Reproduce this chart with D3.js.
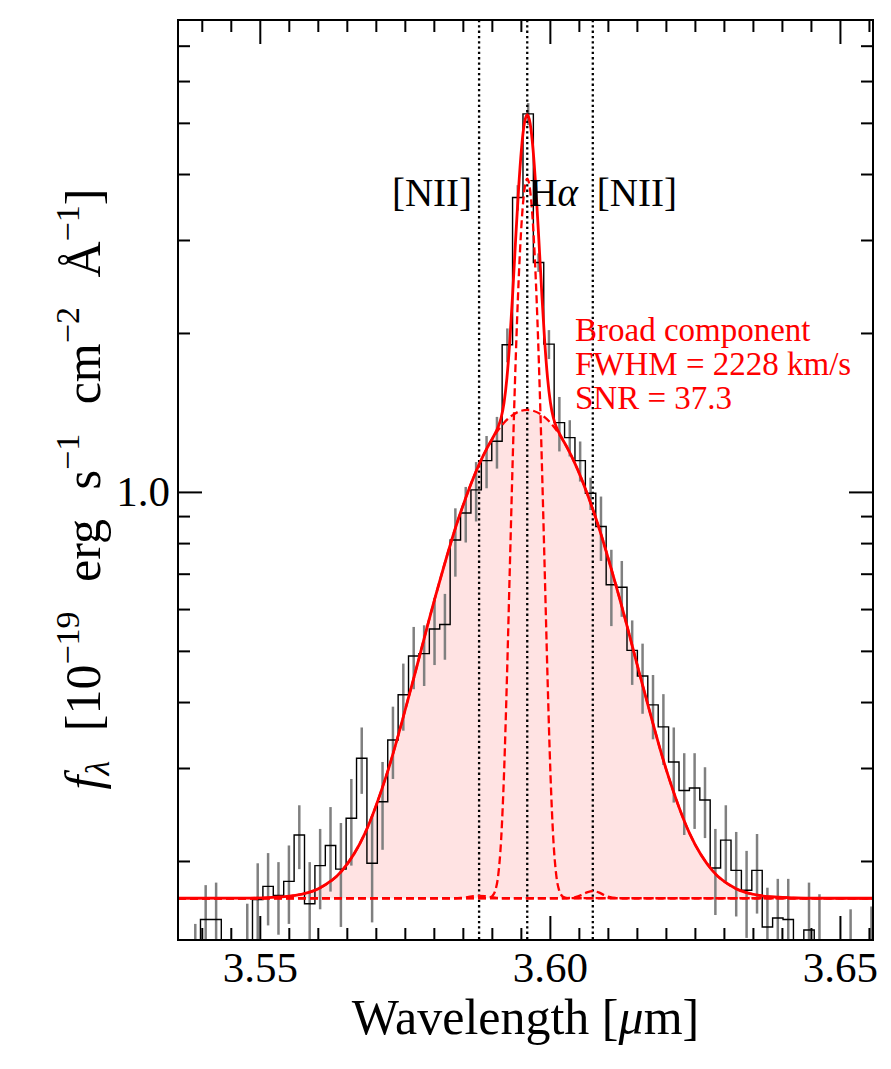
<!DOCTYPE html>
<meta charset="utf-8">
<body style="margin:0;background:#fff">
<script src="https://cdn.jsdelivr.net/npm/d3@7"></script>
<script>

// binned spectrum: bin centres [um], flux and 1-sigma error [1e-19 erg/s/cm2/A]
var wave = [3.53709, 3.53888, 3.54067, 3.54247, 3.54426, 3.54605, 3.54784, 3.54964,
            3.55143, 3.55322, 3.55502, 3.55681, 3.55860, 3.56040, 3.56219, 3.56398,
            3.56578, 3.56757, 3.56936, 3.57116, 3.57295, 3.57474, 3.57653, 3.57833,
            3.58012, 3.58191, 3.58371, 3.58550, 3.58729, 3.58909, 3.59088, 3.59267,
            3.59447, 3.59626, 3.59805, 3.59984, 3.60164, 3.60343, 3.60522, 3.60702,
            3.60881, 3.61060, 3.61240, 3.61419, 3.61598, 3.61778, 3.61957, 3.62136,
            3.62316, 3.62495, 3.62674, 3.62853, 3.63033, 3.63212, 3.63391, 3.63571,
            3.63750, 3.63929, 3.64109, 3.64288, 3.64467, 3.64647, 3.64826, 3.65005,
            3.65184, 3.65364, 3.65543, 3.65722];
var flux = [0.100, 0.130, 0.155, 0.155, 0.090, 0.100, 0.135, 0.169,
            0.179, 0.172, 0.183, 0.224, 0.166, 0.196, 0.214, 0.193,
            0.241, 0.313, 0.198, 0.259, 0.339, 0.413, 0.489, 0.494,
            0.550, 0.561, 0.811, 0.912, 1.009, 1.146, 1.247, 1.900,
            3.610, 5.200, 2.720, 1.905, 1.353, 1.267, 1.146, 0.994,
            0.860, 0.667, 0.660, 0.501, 0.448, 0.395, 0.359, 0.308,
            0.272, 0.275, 0.261, 0.194, 0.219, 0.192, 0.176, 0.192,
            0.150, 0.156, 0.155, 0.090, 0.148, 0.130, 0.100, 0.100,
            0.130, 0.100, 0.130, 0.100];
var ferr = [0.020, 0.022, 0.025, 0.027, 0.025, 0.028, 0.031, 0.029,
            0.028, 0.027, 0.031, 0.031, 0.033, 0.034, 0.039, 0.043,
            0.045, 0.045, 0.045, 0.049, 0.053, 0.060, 0.066, 0.065,
            0.080, 0.080, 0.120, 0.110, 0.130, 0.130, 0.140, 0.140,
            0.200, 0.250, 0.110, 0.120, 0.160, 0.100, 0.100, 0.070,
            0.120, 0.110, 0.080, 0.070, 0.068, 0.055, 0.055, 0.050,
            0.048, 0.045, 0.040, 0.036, 0.036, 0.035, 0.033, 0.033,
            0.028, 0.029, 0.030, 0.025, 0.034, 0.043, 0.025, 0.025,
            0.032, 0.025, 0.034, 0.020];

// fitted model: [wavelength, flux]
var continuum = 0.170;
var totalFit = [[3.5359, 0.1700], [3.5481, 0.1701], [3.5521, 0.1706], [3.5561, 0.1721],
                [3.5601, 0.1772], [3.5641, 0.1913], [3.5681, 0.2254], [3.5721, 0.2970],
                [3.5761, 0.4260], [3.5801, 0.6240], [3.5841, 0.8800], [3.5881, 1.1463],
                [3.5891, 1.2066], [3.5901, 1.2630], [3.5911, 1.3290], [3.5916, 1.3820],
                [3.5921, 1.4750], [3.5926, 1.6440], [3.5931, 1.9340], [3.5936, 2.3860],
                [3.5941, 3.0060], [3.5946, 3.7380], [3.5951, 4.4540], [3.5956, 4.9840],
                [3.5961, 5.1800], [3.5966, 4.9840], [3.5971, 4.4540], [3.5976, 3.7380],
                [3.5981, 3.0060], [3.5986, 2.3860], [3.5991, 1.9340], [3.5996, 1.6440],
                [3.6001, 1.4750], [3.6006, 1.3820], [3.6011, 1.3290], [3.6021, 1.2630],
                [3.6031, 1.2066], [3.6041, 1.1463], [3.6081, 0.8800], [3.6121, 0.6240],
                [3.6161, 0.4260], [3.6201, 0.2970], [3.6241, 0.2254], [3.6281, 0.1913],
                [3.6321, 0.1772], [3.6361, 0.1721], [3.6401, 0.1706], [3.6441, 0.1701],
                [3.6557, 0.1700]];
var broadFit = [[3.5359, 0.1700], [3.5481, 0.1701], [3.5521, 0.1706], [3.5561, 0.1721],
                [3.5601, 0.1772], [3.5641, 0.1913], [3.5681, 0.2254], [3.5721, 0.2970],
                [3.5761, 0.4260], [3.5801, 0.6240], [3.5841, 0.8800], [3.5881, 1.1460],
                [3.5921, 1.3520], [3.5961, 1.4300], [3.6001, 1.3520], [3.6041, 1.1460],
                [3.6081, 0.8800], [3.6121, 0.6240], [3.6161, 0.4260], [3.6201, 0.2970],
                [3.6241, 0.2254], [3.6281, 0.1913], [3.6321, 0.1772], [3.6361, 0.1721],
                [3.6401, 0.1706], [3.6441, 0.1701], [3.6557, 0.1700]];
var narrowFit = [[3.5359, 0.1700], [3.5891, 0.1701], [3.5896, 0.1705], [3.5901, 0.1717],
                 [3.5906, 0.1759], [3.5911, 0.1880], [3.5916, 0.2196], [3.5921, 0.2929],
                 [3.5926, 0.4439], [3.5931, 0.7186], [3.5936, 1.1570], [3.5941, 1.7660],
                 [3.5946, 2.4890], [3.5951, 3.1990], [3.5956, 3.7250], [3.5961, 3.9200],
                 [3.5966, 3.7250], [3.5971, 3.1990], [3.5976, 2.4890], [3.5981, 1.7660],
                 [3.5986, 1.1570], [3.5991, 0.7186], [3.5996, 0.4439], [3.6001, 0.2929],
                 [3.6006, 0.2196], [3.6011, 0.1880], [3.6016, 0.1759], [3.6021, 0.1717],
                 [3.6026, 0.1705], [3.6031, 0.1701], [3.6557, 0.1700]];
var niiBlueFit = [[3.5359, 0.1700], [3.5838, 0.1700], [3.5848, 0.1703], [3.5858, 0.1708],
                  [3.5868, 0.1715], [3.5878, 0.1718], [3.5888, 0.1715], [3.5898, 0.1708],
                  [3.5908, 0.1703], [3.5918, 0.1700], [3.6557, 0.1700]];
var niiRedFit = [[3.5359, 0.1700], [3.6024, 0.1700], [3.6034, 0.1702], [3.6044, 0.1708],
                 [3.6054, 0.1723], [3.6064, 0.1744], [3.6074, 0.1754], [3.6084, 0.1744],
                 [3.6094, 0.1723], [3.6104, 0.1708], [3.6114, 0.1702], [3.6124, 0.1700],
                 [3.6557, 0.1700]];

var lineWaves = [3.5878, 3.5961, 3.6074];
var fitLabels = ["Broad component", "FWHM = 2228 km/s", "SNR = 37.3"];
var xMajor = [3.55, 3.60, 3.65];
var xMinor = [3.540, 3.545, 3.555, 3.560, 3.565, 3.570, 3.575, 3.580, 3.585, 3.590, 3.595,
              3.605, 3.610, 3.615, 3.620, 3.625, 3.630, 3.635, 3.640, 3.645, 3.655];
var yMajor = [1.0];
var yMinor = [0.2, 0.3, 0.4, 0.5, 0.6, 0.7, 0.8, 0.9, 2, 3, 4, 5, 6, 7];

var W = 891, H = 1069;
var pL = 178, pR = 873, pT = 20, pB = 940;
var serif = "'Liberation Serif', 'Times New Roman', serif";

var svg = d3.select("body").append("svg")
    .attr("width", W)
    .attr("height", H)
    .style("font-family", serif);

var x = d3.scaleLinear().domain([3.5359, 3.6557]).range([pL, pR]);
var y = d3.scaleLog().domain([0.1417, 7.83]).range([pB, pT]);

svg.append("clipPath").attr("id", "plot")
  .append("rect")
    .attr("x", pL).attr("y", pT)
    .attr("width", pR - pL).attr("height", pB - pT);

var g = svg.append("g").attr("clip-path", "url(#plot)");

// broad component shading
g.append("path")
    .datum(broadFit)
    .attr("d", d3.area()
        .x(function(d) { return x(d[0]); })
        .y0(y(continuum))
        .y1(function(d) { return y(d[1]); })
        .curve(d3.curveMonotoneX))
    .style("fill", "red")
    .style("fill-opacity", 0.11);

// error bars
g.selectAll("line.err")
    .data(wave)
  .enter().append("line")
    .attr("class", "err")
    .attr("x1", function(d) { return x(d); })
    .attr("x2", function(d) { return x(d); })
    .attr("y1", function(d, i) { return y(flux[i] - ferr[i]); })
    .attr("y2", function(d, i) { return y(flux[i] + ferr[i]); })
    .style("stroke", "#808080")
    .style("stroke-width", 2.5);

// spectrum as steps
g.append("path")
    .datum(d3.zip(wave, flux))
    .attr("d", d3.line()
        .x(function(d) { return x(d[0]); })
        .y(function(d) { return y(d[1]); })
        .curve(d3.curveStep))
    .style("fill", "none")
    .style("stroke", "black")
    .style("stroke-width", 1.4);

// line positions
g.selectAll("line.em")
    .data(lineWaves)
  .enter().append("line")
    .attr("class", "em")
    .attr("x1", function(d) { return x(d); })
    .attr("x2", function(d) { return x(d); })
    .attr("y1", pT)
    .attr("y2", pB)
    .style("stroke", "black")
    .style("stroke-width", 2.3)
    .style("stroke-dasharray", "2.3,3");

var fitLine = d3.line()
    .x(function(d) { return x(d[0]); })
    .y(function(d) { return y(d[1]); })
    .curve(d3.curveMonotoneX);

[broadFit, narrowFit, niiBlueFit, niiRedFit].forEach(function(c) {
  g.append("path")
      .datum(c)
      .attr("d", fitLine)
      .style("fill", "none")
      .style("stroke", "red")
      .style("stroke-width", 2.3)
      .style("stroke-dasharray", "8,4");
});

g.append("path")
    .datum(totalFit)
    .attr("d", fitLine)
    .style("fill", "none")
    .style("stroke", "red")
    .style("stroke-width", 2.8);

// axes: ticks inward on all four sides
function ticks(axis, vals, len, tr) {
  var a = svg.append("g")
      .attr("transform", tr)
      .call(axis.tickValues(vals).tickSize(-len).tickFormat(""));
  a.select(".domain").remove();
  a.selectAll("line").style("stroke-width", 2);
  return a;
}
ticks(d3.axisBottom(x), xMinor, 12, "translate(0," + pB + ")");
ticks(d3.axisTop(x), xMinor, 12, "translate(0," + pT + ")");
ticks(d3.axisTop(x), xMajor, 24, "translate(0," + pT + ")");
ticks(d3.axisLeft(y), yMinor, 12, "translate(" + pL + ",0)");
ticks(d3.axisRight(y), yMinor, 12, "translate(" + pR + ",0)");
ticks(d3.axisRight(y), yMajor, 24, "translate(" + pR + ",0)");

var xAxis = svg.append("g")
    .attr("transform", "translate(0," + pB + ")")
    .call(d3.axisBottom(x).tickValues(xMajor).tickSize(-24).tickPadding(11)
        .tickFormat(d3.format(".2f")));
xAxis.select(".domain").remove();
xAxis.selectAll("line").style("stroke-width", 2);
xAxis.selectAll("text").style("font-family", serif).style("font-size", "43px").style("fill", "black");

var yAxis = svg.append("g")
    .attr("transform", "translate(" + pL + ",0)")
    .call(d3.axisLeft(y).tickValues(yMajor).tickSize(-24).tickPadding(8)
        .tickFormat(d3.format(".1f")));
yAxis.select(".domain").remove();
yAxis.selectAll("line").style("stroke-width", 2);
yAxis.selectAll("text").style("font-family", serif).style("font-size", "43px").style("fill", "black");

svg.append("rect")
    .attr("x", pL).attr("y", pT)
    .attr("width", pR - pL).attr("height", pB - pT)
    .style("fill", "none")
    .style("stroke", "black")
    .style("stroke-width", 2);

// line labels
svg.append("text")
    .attr("x", x(lineWaves[0]) - 7).attr("y", 206)
    .attr("text-anchor", "end")
    .style("font-size", "39px")
    .text("[NII]");
var ha = svg.append("text")
    .attr("x", x(lineWaves[1]) + 2).attr("y", 206)
    .style("font-size", "39px");
ha.append("tspan").text("H");
ha.append("tspan").style("font-style", "italic").text("α");
svg.append("text")
    .attr("x", x(lineWaves[2]) + 4).attr("y", 206)
    .style("font-size", "39px")
    .text("[NII]");

// broad component summary
svg.selectAll("text.fit")
    .data(fitLabels)
  .enter().append("text")
    .attr("class", "fit")
    .attr("x", 575)
    .attr("y", function(d, i) { return 341 + i * 34; })
    .style("font-size", "33px")
    .style("fill", "red")
    .text(function(d) { return d; });

// axis titles
var xt = svg.append("text")
    .attr("x", (pL + pR) / 2).attr("y", 1034)
    .attr("text-anchor", "middle")
    .style("font-size", "50px");
xt.append("tspan").text("Wavelength [");
xt.append("tspan").style("font-style", "italic").text("μ");
xt.append("tspan").text("m]");

var yt = svg.append("text")
    .attr("transform", "translate(100,489) rotate(-90)")
    .attr("text-anchor", "middle")
    .style("font-size", "50px")
    .style("word-spacing", "17px");
yt.append("tspan").style("font-style", "italic").text("f");
yt.append("tspan").attr("baseline-shift", "-9px").style("font-size", "34px").style("font-style", "italic").text("λ");
yt.append("tspan").text(" [10");
yt.append("tspan").attr("baseline-shift", "21px").style("font-size", "34px").text("−19");
yt.append("tspan").text(" erg s");
yt.append("tspan").attr("baseline-shift", "21px").style("font-size", "34px").text("−1");
yt.append("tspan").text(" cm");
yt.append("tspan").attr("baseline-shift", "21px").style("font-size", "34px").text("−2");
yt.append("tspan").text(" Å");
yt.append("tspan").attr("baseline-shift", "21px").style("font-size", "34px").text("−1");
yt.append("tspan").text("]");

</script>
